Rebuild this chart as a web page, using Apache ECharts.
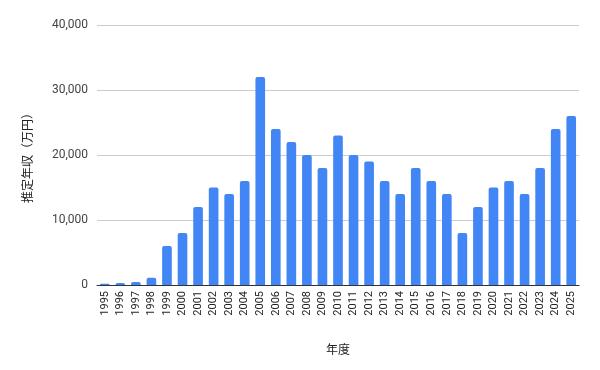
<!DOCTYPE html>
<html><head><meta charset="utf-8">
<script src="https://cdn.jsdelivr.net/npm/echarts@6/dist/echarts.min.js"></script>
<style>html,body{margin:0;padding:0;background:#fff}#c{width:600px;height:370px}</style>
</head><body><div id="c"></div>
<script>
const years = ['1995','1996','1997','1998','1999','2000','2001','2002','2003','2004','2005','2006','2007','2008','2009','2010','2011','2012','2013','2014','2015','2016','2017','2018','2019','2020','2021','2022','2023','2024','2025'];
const income = [200,300,450,1100,6000,8000,12000,15000,14000,16000,32000,24000,22000,20000,18000,23000,20000,19000,16000,14000,18000,16000,14000,8000,12000,15000,16000,14000,18000,24000,26000];
const yTitle = '推定年収（万円）';
const xTitle = '年度';

const chart = echarts.init(document.getElementById('c'), null, {renderer:'canvas'});
chart.setOption({
  animation:false,
  grid:{left:97,right:21,top:25,bottom:85,containLabel:false},
  xAxis:{type:'category',data:years,name:xTitle,nameLocation:'middle',nameGap:60,
    nameTextStyle:{fontFamily:'Roboto, "Noto Sans CJK JP"',fontSize:12,color:'#222'},
    axisLine:{lineStyle:{color:'#333',width:1}},axisTick:{show:false},
    axisLabel:{rotate:90,interval:0,fontFamily:'Roboto',fontSize:11,color:'#222',margin:6}},
  yAxis:{type:'value',min:0,max:40000,interval:10000,name:yTitle,nameLocation:'middle',nameGap:62,
    nameTextStyle:{fontFamily:'Roboto, "Noto Sans CJK JP"',fontSize:12,color:'#222'},
    axisLine:{show:false},axisTick:{show:false},
    splitLine:{lineStyle:{color:'#ccc'}},
    axisLabel:{fontFamily:'Roboto',fontSize:12,color:'#444',margin:9,
      formatter:v=>v.toLocaleString('en-US')}},
  series:[{type:'bar',data:income,barCategoryGap:'38%',
    itemStyle:{color:'#4285F4',borderRadius:[2,2,0,0]}}]
});
</script></body></html>
